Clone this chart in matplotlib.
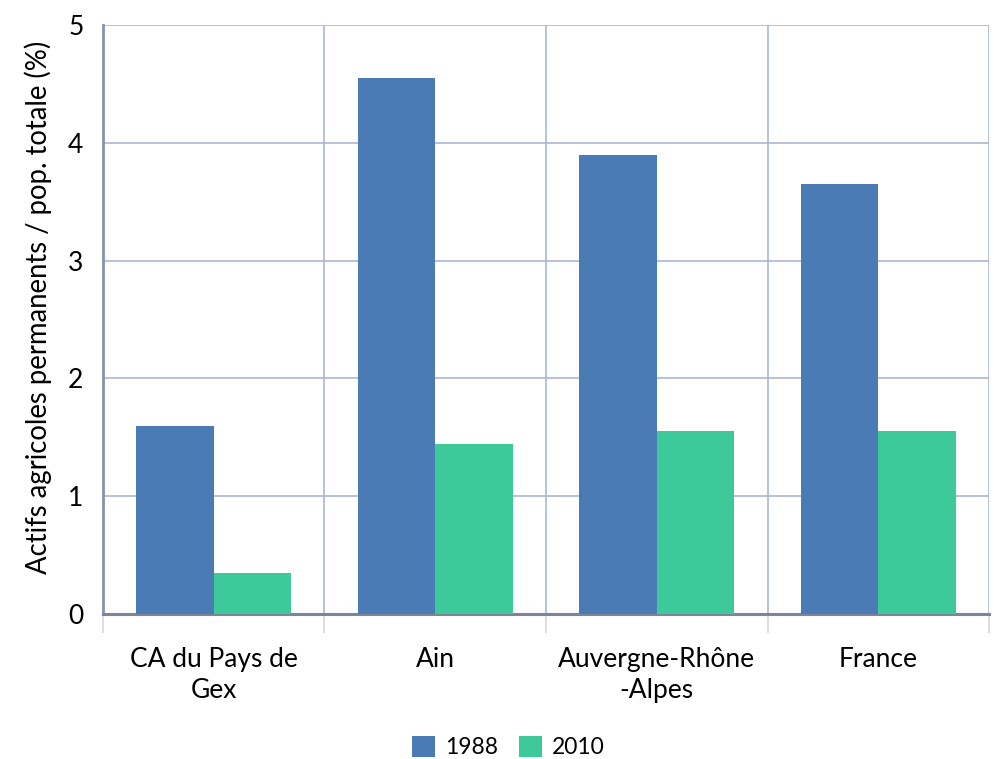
import numpy as np
import matplotlib.pyplot as plt

plt.rcParams['font.family'] = ['Lato', 'DejaVu Sans']

categories = ['CA du Pays de\nGex', 'Ain', 'Auvergne-Rhône\n-Alpes', 'France']
values_1988 = [1.6, 4.55, 3.9, 3.65]
values_2010 = [0.35, 1.44, 1.55, 1.55]
years = ['1988', '2010']

blue = '#4a7bb4'
green = '#3ec99a'
grid_col = '#a9b7cf'

fig = plt.figure(figsize=(9.95, 7.59), dpi=100)
ax = fig.add_axes([0.1035, 0.191, 0.8905, 0.776])

x = np.arange(len(categories))
width = 0.35
ax.bar(x - width / 2, values_1988, width, color=blue, label=years[0], zorder=3)
ax.bar(x + width / 2, values_2010, width, color=green, label=years[1], zorder=3)

ax.set_xlim(-0.5, len(categories) - 0.5)
ax.set_ylim(0, 5)
ax.set_yticks(np.arange(0, 6, 1))
ax.set_xticks(x)
ax.set_xticklabels(categories, fontsize=19, linespacing=1.3)
ax.set_xticks(np.arange(-0.5, len(categories), 1), minor=True)

# gridlines: horizontal on values, vertical between groups
ax.grid(axis='y', which='major', color=grid_col, lw=1.2, zorder=0)
ax.grid(axis='x', which='minor', color=grid_col, lw=1.2, zorder=0)
ax.tick_params(axis='x', which='major', length=0, pad=24)
ax.tick_params(axis='x', which='minor', length=14, color='#d4d8e0', width=1.2)
ax.tick_params(axis='y', length=0, pad=14, labelsize=19)

for side in ['top', 'right']:
    ax.spines[side].set_visible(False)
ax.spines['left'].set_color('#8593ad')
ax.spines['left'].set_linewidth(2)
ax.spines['bottom'].set_color('#7d8699')
ax.spines['bottom'].set_linewidth(2.2)

ax.set_ylabel('Actifs agricoles permanents / pop. totale (%)', fontsize=19.8)
ax.yaxis.set_label_coords(-0.058, 0.521)

fig.legend(loc='lower center', bbox_to_anchor=(0.511, -0.026), ncol=2, frameon=False,
           fontsize=16.5, handlelength=1.0, handleheight=1.0, handletextpad=0.45,
           columnspacing=0.9)

fig.savefig('out.png', dpi=100)
